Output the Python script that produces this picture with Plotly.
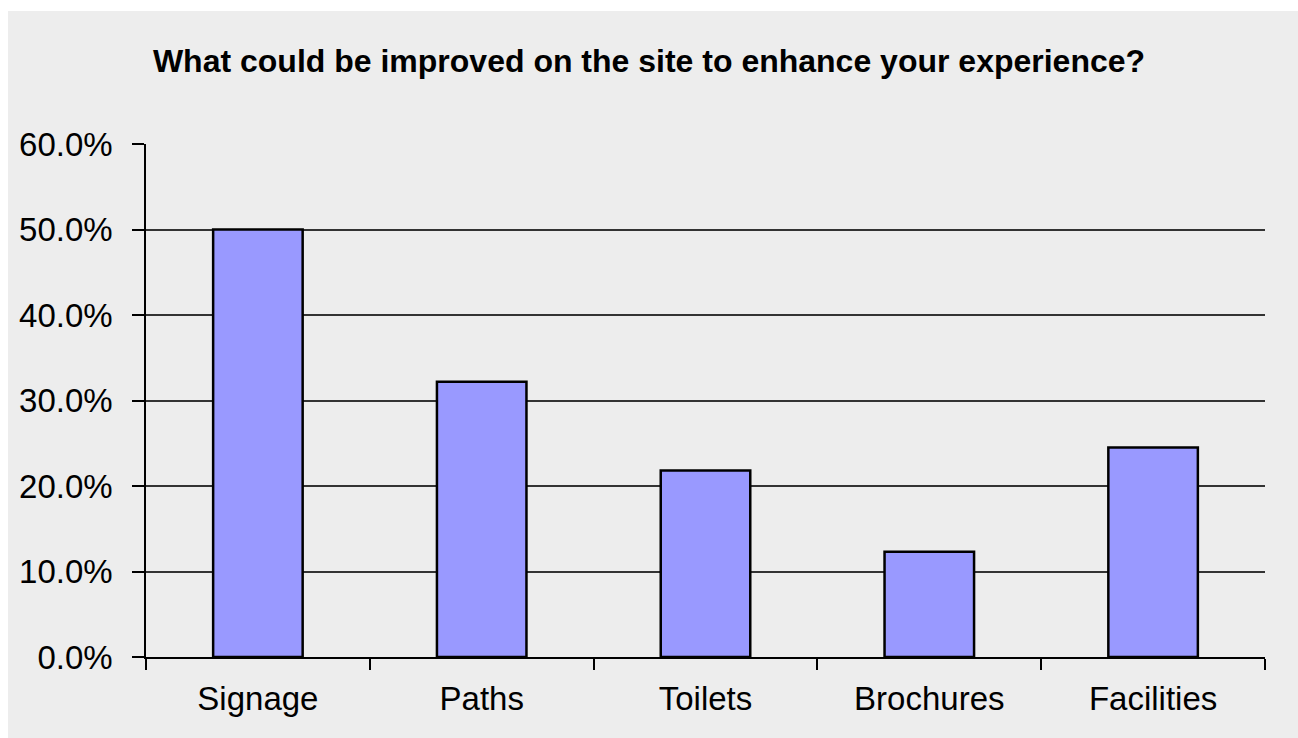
import plotly.graph_objects as go

categories = ["Signage", "Paths", "Toilets", "Brochures", "Facilities"]
shares = [50.0, 32.2, 21.8, 12.3, 24.5]  # percent of respondents
y_ticks = [0, 10, 20, 30, 40, 50, 60]
y_tick_labels = [f"{v:.1f}%" for v in y_ticks]

W, H = 1298, 738
L, R, T, B = 146, 33, 144, 81
pw, ph = W - L - R, H - T - B

fig = go.Figure(
    go.Bar(
        x=categories,
        y=shares,
        width=0.4,
        marker=dict(color="#9999FF", line=dict(color="#000000", width=2.5)),
        hoverinfo="x+y",
    )
)

# grey chart area with a thin white border at top and left
fig.add_shape(
    type="rect", xref="paper", yref="paper", layer="below",
    x0=(8 - L) / pw, x1=(W - L) / pw,
    y0=-B / ph, y1=(H - 11 - B) / ph,
    fillcolor="#EDEDED", line=dict(width=0),
)

font = "Liberation Sans, Arial, sans-serif"
fig.update_layout(
    width=W, height=H,
    margin=dict(l=L, r=R, t=T, b=B, pad=0),
    paper_bgcolor="#FFFFFF",
    plot_bgcolor="rgba(0,0,0,0)",
    showlegend=False,
    title=dict(
        text="<b>What could be improved on the site to enhance your experience?</b>",
        font=dict(family=font, size=32, color="#000000"),
        x=649 / W, xanchor="center", xref="container",
        y=1 - 61 / H, yanchor="middle", yref="container",
    ),
    xaxis=dict(
        showgrid=False,
        showline=True, linecolor="#000000", linewidth=1.5,
        ticks="outside", ticklen=11, tickcolor="#000000", tickwidth=1.5,
        tickson="boundaries",
        tickfont=dict(family=font, size=33, color="#000000"),
        ticklabelstandoff=12,
    ),
    yaxis=dict(
        range=[0, 60],
        tickvals=y_ticks, ticktext=y_tick_labels,
        showgrid=True, gridcolor="#333333", gridwidth=1.5,
        showline=True, linecolor="#000000", linewidth=1.5,
        ticks="outside", ticklen=12, tickcolor="#000000", tickwidth=1.5,
        tickfont=dict(family=font, size=33, color="#000000"),
        ticklabelstandoff=13,
        zeroline=False,
    ),
)

fig.write_html("out.html")
